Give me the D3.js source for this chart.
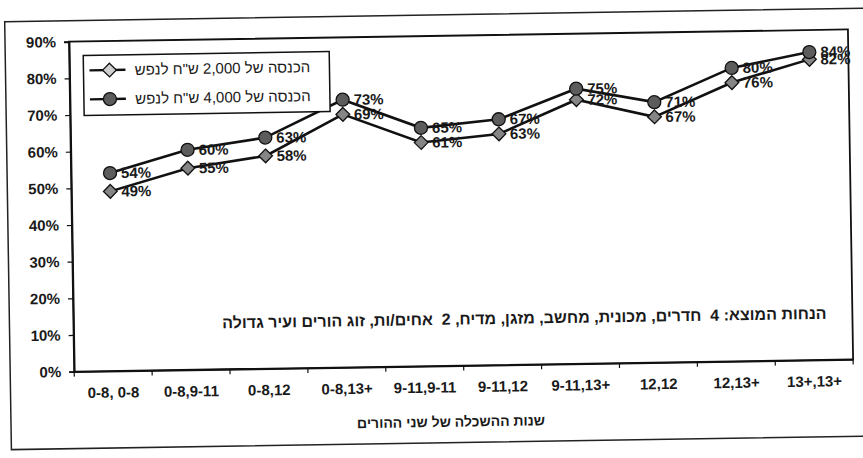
<!DOCTYPE html>
<html>
<head>
<meta charset="utf-8">
<script src="https://cdn.jsdelivr.net/npm/d3@7"></script>
<style>
  body { margin: 0; background: #fff; }
  text { font-family: "Liberation Sans", Arial, sans-serif; fill: #1a1a1a; }
</style>
</head>
<body>
<svg class="chart" width="863" height="458"></svg>
<script>
// categories: years of schooling of both parents
var categories = ['0-8, 0-8', '0-8,9-11', '0-8,12', '0-8,13+', '9-11,9-11', '9-11,12', '9-11,13+', '12,12', '12,13+', '13+,13+'];
var income2000 = [0.49, 0.55, 0.58, 0.69, 0.61, 0.63, 0.72, 0.67, 0.76, 0.82];
var income4000 = [0.54, 0.60, 0.63, 0.73, 0.65, 0.67, 0.75, 0.71, 0.80, 0.84];
var seriesNames = ['הכנסה של 2,000 ש"ח לנפש', 'הכנסה של 4,000 ש"ח לנפש'];
var yTicks = [0, 0.1, 0.2, 0.3, 0.4, 0.5, 0.6, 0.7, 0.8, 0.9];
var xTitle = 'שנות ההשכלה של שני ההורים';
var note = 'הנחות המוצא: 4  חדרים, מכונית, מחשב, מזגן, מדיח, 2  אחים/ות, זוג הורים ועיר גדולה';

var W = 863, H = 458;
var plot = {left: 72, top: 36, right: 851, bottom: 366};

// the scanned page sits a little crooked, so tilt everything the same way
var svg = d3.select('.chart').append('g').attr('transform', 'rotate(-0.9,' + W/2 + ',' + H/2 + ')');

svg.append('rect')
  .attr('x', 8).attr('y', 15).attr('width', 880).attr('height', 428)
  .attr('fill', 'none').attr('stroke', '#222').attr('stroke-width', 1.5);

var x = d3.scaleBand().domain(categories).range([plot.left, plot.right]);
var y = d3.scaleLinear().domain([0, 0.9]).range([plot.bottom, plot.top]);

// plot area frame
svg.append('rect')
  .attr('x', plot.left).attr('y', plot.top)
  .attr('width', plot.right - plot.left).attr('height', plot.bottom - plot.top)
  .attr('fill', 'none').attr('stroke', '#111').attr('stroke-width', 1.8);

/* --------- AXES ---------*/
var yAxis = svg.append('g')
  .attr('transform', 'translate(' + plot.left + ',0)')
  .call(d3.axisLeft(y).tickValues(yTicks).tickSize(5).tickPadding(8).tickFormat(d3.format('.0%')));
yAxis.select('.domain').attr('stroke', '#111').attr('stroke-width', 1.8);
yAxis.selectAll('.tick line').attr('stroke', '#111').attr('stroke-width', 1.2);
yAxis.selectAll('.tick text').attr('font-size', 15).attr('font-weight', 'bold').attr('fill', '#1a1a1a');

var xAxis = svg.append('g')
  .attr('transform', 'translate(0,' + plot.bottom + ')')
  .call(d3.axisBottom(x).tickSize(0).tickPadding(16));
xAxis.select('.domain').attr('stroke', '#111').attr('stroke-width', 1.8);
xAxis.selectAll('.tick text').attr('font-size', 15).attr('font-weight', 'bold').attr('fill', '#1a1a1a');

// category tick marks sit between the categories
var edges = categories.map(function(d){ return x(d); }).concat([x.range()[1]]);
svg.append('g').selectAll('line').data(edges).enter().append('line')
  .attr('x1', function(d){ return d; }).attr('x2', function(d){ return d; })
  .attr('y1', plot.bottom).attr('y2', plot.bottom + 5)
  .attr('stroke', '#111').attr('stroke-width', 1.2);

svg.append('text')
  .attr('x', 448).attr('y', 427)
  .attr('text-anchor', 'middle').attr('direction', 'rtl')
  .attr('font-size', 14).attr('font-weight', 'bold')
  .text(xTitle);

svg.append('text')
  .attr('x', 523).attr('y', 325)
  .attr('text-anchor', 'middle').attr('direction', 'rtl')
  .style('white-space', 'pre')
  .attr('font-size', 16).attr('font-weight', 'bold')
  .text(note);

/* --------- SERIES ---------*/
var diamond = d3.symbol().type(d3.symbolDiamond2).size(120);
var series = [
  {name: seriesNames[0], values: income2000, shape: 'diamond', fill: '#858585'},
  {name: seriesNames[1], values: income4000, shape: 'circle', fill: '#5c5c5c'}
];

function cx(i){ return x(categories[i]) + x.bandwidth()/2; }

function drawMarker(g, s, px, py){
  if (s.shape === 'circle') {
    g.append('circle').attr('cx', px).attr('cy', py).attr('r', 6.5)
      .attr('fill', s.fill).attr('stroke', '#111').attr('stroke-width', 1.3);
  } else {
    g.append('path').attr('d', diamond).attr('transform', 'translate(' + px + ',' + py + ')')
      .attr('fill', s.fill).attr('stroke', '#111').attr('stroke-width', 1.3);
  }
}

var line = d3.line()
  .x(function(d, i){ return cx(i); })
  .y(function(d){ return y(d); });

series.forEach(function(s){
  var g = svg.append('g').attr('class', 'series');
  g.append('path').attr('d', line(s.values))
    .attr('fill', 'none').attr('stroke', '#111').attr('stroke-width', 2.6);
  s.values.forEach(function(v, i){ drawMarker(g, s, cx(i), y(v)); });
  g.selectAll('text.lbl').data(s.values).enter().append('text')
    .attr('class', 'lbl')
    .attr('x', function(d, i){ return cx(i) + 11; })
    .attr('y', function(d){ return y(d); })
    .attr('dy', '0.35em')
    .attr('font-size', 15).attr('font-weight', 'bold')
    .text(d3.format('.0%'));
});

/* --------- LEGEND ---------*/
var legend = svg.append('g');
legend.append('rect')
  .attr('x', 86).attr('y', 50).attr('width', 246).attr('height', 60)
  .attr('fill', '#fff').attr('stroke', '#111').attr('stroke-width', 1.5);
series.forEach(function(s, i){
  var ly = 65 + i * 29;
  legend.append('line').attr('x1', 92).attr('x2', 128).attr('y1', ly).attr('y2', ly)
    .attr('stroke', '#111').attr('stroke-width', 2.4);
  drawMarker(legend, {shape: s.shape, fill: i === 0 ? '#cfcfcf' : s.fill}, 112, ly);
  legend.append('text')
    .attr('x', 225).attr('y', ly).attr('dy', '0.35em')
    .attr('text-anchor', 'middle').attr('direction', 'rtl')
    .attr('font-size', 15)
    .text(s.name);
});
</script>
</body>
</html>
